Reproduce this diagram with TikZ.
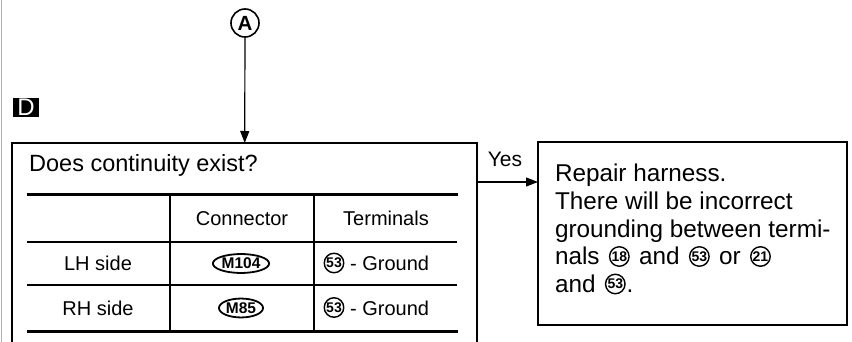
\documentclass[tikz,border=0pt]{standalone}
\usepackage{fontspec}
\setmainfont{Liberation Sans}
\usetikzlibrary{arrows.meta,shapes.geometric,calc}
\tikzset{
  cnumsty/.style={circle,draw,line width=1.4pt,inner sep=0pt,outer sep=0pt,minimum size=19.5pt,font=\fontsize{14}{14}\selectfont\bfseries},
  oval/.style={ellipse,draw,line width=1.8pt,inner xsep=0.5pt,inner ysep=1.2pt,font=\fontsize{15.5}{15.5}\selectfont\bfseries},
  arr/.style={-{Triangle[length=12pt,width=9pt]},line width=1.2pt},
  box/.style={draw,line width=1.4pt,inner sep=0pt,outer sep=0pt},
  qtext/.style={font=\fontsize{23.5}{27}\selectfont,inner sep=0pt,anchor=base west},
  btext/.style={font=\fontsize{24.3}{28}\selectfont,inner sep=0pt,outer sep=0pt,anchor=base west},
  cell/.style={font=\fontsize{20}{24}\selectfont,inner sep=0pt,anchor=base},
  thin/.style={line width=1.4pt},
  thick/.style={line width=3pt},
}
\begin{document}
\begin{tikzpicture}[x=1pt,y=-1pt]
\useasboundingbox (0,0) rectangle (852,342);
\clip (0,0) rectangle (852,342);
% scan edge
\draw[gray!60,line width=1pt] (1.5,0) -- (1.5,342);
% circle A
\node[circle,draw,line width=1.6pt,minimum size=28pt,inner sep=0pt,font=\fontsize{20.5}{20.5}\selectfont\bfseries] (A) at (245,23) {A};
% D label
\node[fill=black,text=white,minimum width=26pt,minimum height=19.5pt,inner sep=0pt,font=\fontsize{24}{24}\selectfont] (D) at (26,107.5) {D};
% question box (cut off at bottom)
\node[box,minimum width=465pt,minimum height=217pt] (q) at (244.5,251.5) {};
\node[qtext] (qt) at (29,172) {Does continuity exist?};
% table
\draw[thick] (27,195) -- (458,195);
\draw[thin] (27,242) -- (457,242);
\draw[thin] (27,285) -- (457,285);
\draw[thick] (27,331) -- (458,331);
\draw[thin] (170,195) -- (170,331);
\draw[thin] (314,195) -- (314,331);
\node[cell] (hc) at (242,225.5) {Connector};
\node[cell] (ht) at (386,225.5) {Terminals};
\node[cell] (lh) at (98,270.5) {LH side};
\node[oval] (m104) at (241,263.5) {M104};
\node[cnumsty] (t53a) at (334,263) {53};
\node[cell,anchor=base west] (lt) at (350,270.5) {- Ground};
\node[cell] (rh) at (98,315) {RH side};
\node[oval] (m85) at (241,308) {M85};
\node[cnumsty] (t53b) at (334,307.5) {53};
\node[cell,anchor=base west] (rt) at (350,315) {- Ground};
% repair box
\node[box,minimum width=309pt,minimum height=183pt] (rep) at (692.5,233.5) {};
\node[btext] (r1) at (555,182) {Repair harness.};
\node[btext] (r2) at (555,209.5) {There will be incorrect};
\node[btext] (r3) at (555,237) {grounding between termi-};
\node[btext] (r4a) at (555,264.5) {nals};
\node[cnumsty,anchor=west] (c18) at ($(r4a.base east)+(10,-8)$) {18};
\node[btext] (r4b) at ($(c18.east)+(10,8)$) {and};
\node[cnumsty,anchor=west] (c53a) at ($(r4b.base east)+(10,-8)$) {53};
\node[btext] (r4c) at ($(c53a.east)+(10,8)$) {or};
\node[cnumsty,anchor=west] (c21) at ($(r4c.base east)+(10,-8)$) {21};
\node[btext] (r5a) at (555,292) {and};
\node[cnumsty,anchor=west] (c53b) at ($(r5a.base east)+(10,-8)$) {53};
\node[btext] (r5b) at ($(c53b.east)+(1.5,8)$) {.};
% connectors
\draw[arr] (A) -- (q);
\coordinate (yesy) at (0,182);
\draw[arr] (q.east |- yesy) -- (rep.west |- yesy);
\node[font=\fontsize{21}{21}\selectfont,inner sep=0pt] (yes) at (505,159) {Yes};
\end{tikzpicture}
\end{document}
